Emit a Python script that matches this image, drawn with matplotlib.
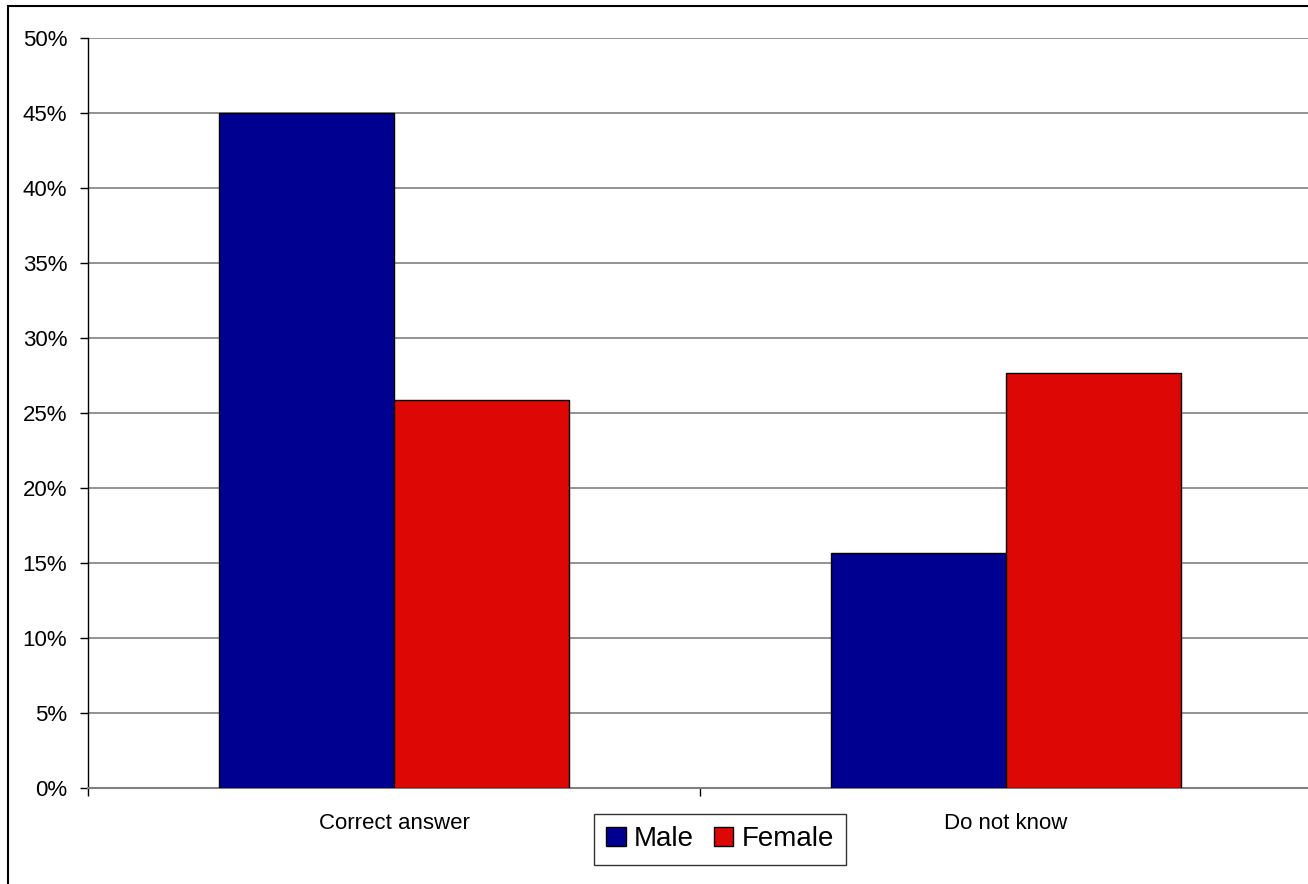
import numpy as np
import matplotlib
matplotlib.use("Agg")
import matplotlib.pyplot as plt
from matplotlib.patches import Rectangle
from matplotlib.ticker import FixedLocator, PercentFormatter

plt.rcParams['font.family'] = ['Liberation Sans', 'DejaVu Sans']

# Survey answers by gender (share of respondents, %)
categories = ['Correct answer', 'Do not know']
male = [45.0, 15.7]
female = [25.9, 27.7]
series_names = ['Male', 'Female']
colors = ['#000090', '#dd0806']

W, H = 1308, 884
fig = plt.figure(figsize=(W / 100, H / 100), dpi=100)

# axes box in pixel terms: x from 88 to 1312 (runs off the right edge), y from 38 to 788
ax = fig.add_axes([88 / W, 1 - 788 / H, (1312 - 88) / W, (788 - 38) / H])

x = np.arange(len(categories))
bw = 0.286
ax.bar(x - bw / 2, male, bw, color=colors[0], edgecolor='black', linewidth=1,
       label=series_names[0], zorder=3)
ax.bar(x + bw / 2, female, bw, color=colors[1], edgecolor='black', linewidth=1,
       label=series_names[1], zorder=3)

ax.set_xlim(-0.5, len(categories) - 0.5)
ax.set_ylim(0, 50)
ax.set_yticks(np.arange(0, 51, 5))
ax.yaxis.set_major_formatter(PercentFormatter(decimals=0))
ax.yaxis.grid(True, color='#808080', linewidth=1.2, zorder=0)

ax.set_xticks(x)
ax.set_xticklabels(categories)
ax.xaxis.set_minor_locator(FixedLocator(np.arange(-0.5, len(categories), 1.0)))
ax.tick_params(axis='x', which='major', length=0, pad=18, labelsize=16)
ax.tick_params(axis='x', which='minor', length=6, width=1, color='black')
ax.tick_params(axis='y', length=6, width=1, pad=9, labelsize=16)

for side in ['top', 'right']:
    ax.spines[side].set_visible(False)
ax.spines['left'].set_linewidth(1)
ax.spines['bottom'].set_color('#808080')
ax.spines['bottom'].set_linewidth(1.5)

fig.legend(loc='center', bbox_to_anchor=(720 / W, 1 - 839 / H), ncol=2,
           fontsize=20, frameon=True, fancybox=False, edgecolor='black',
           handlelength=0.7, handleheight=0.7, handletextpad=0.3,
           columnspacing=0.7, borderpad=0.45, borderaxespad=0)

# outer chart border
fig.add_artist(Rectangle((8 / W, -0.1), 1.2, 1.1 - 6 / H, transform=fig.transFigure,
                         fill=False, edgecolor='black', linewidth=1.5))

fig.savefig('out.png', dpi=100, facecolor='white')
